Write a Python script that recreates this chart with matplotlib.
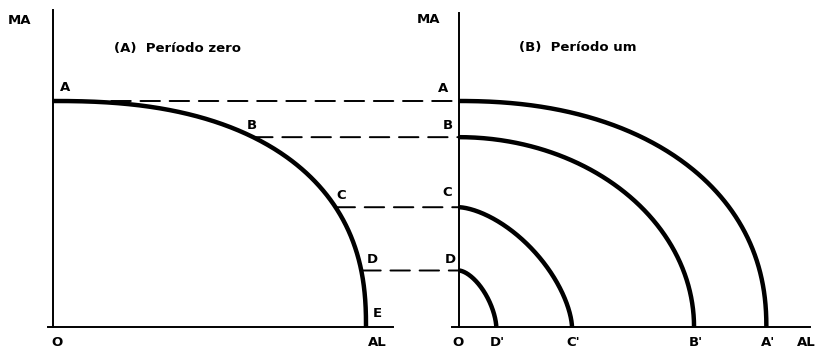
import matplotlib
matplotlib.use("Agg")
import matplotlib.pyplot as plt
import numpy as np
from matplotlib.patches import ConnectionPatch

plt.rcParams["font.family"] = ["DejaVu Sans"]
plt.rcParams["font.weight"] = "bold"
plt.rcParams["lines.scale_dashes"] = False

# --- data (arbitrary units, MA at A = 100) ---
levels = ["A", "B", "C", "D"]
ma_values = [100, 84, 53, 25]          # MA output at points A..D
al_period0 = 138.5                      # AL intercept of period-zero frontier (E)
shape0 = 2.4                            # curvature of period-zero frontier
al_labels1 = ["A'", "B'", "C'", "D'"]
al_period1 = [136, 104, 50, 16.5]       # AL intercepts of period-one frontiers
shape1 = [2.2, 2.0, 1.6, 1.6]

W, H = 817, 351
UNIT = 2.26   # pixels per data unit
LW_AX = 1.4
LW_CURVE = 3.2


def frontier(a, b, n, num=300):
    t = np.linspace(0, np.pi / 2, num)
    return a * np.cos(t) ** (2 / n), b * np.sin(t) ** (2 / n)


def x_at(a, b, n, y):
    return a * (1 - (y / b) ** n) ** (1 / n)


fig = plt.figure(figsize=(W / 100, H / 100), dpi=100)


def make_axes(x0, x1, ytop, ox, oy=327):
    ax = fig.add_axes([x0 / W, (H - oy) / H, (x1 - x0) / W, (oy - ytop) / H])
    ax.set_xlim((x0 - ox) / UNIT, (x1 - ox) / UNIT)
    ax.set_ylim(0, (oy - ytop) / UNIT)
    ax.axis("off")
    ax.axhline(0, color="k", lw=LW_AX, clip_on=False)
    ax.axvline(0, color="k", lw=LW_AX, clip_on=False)
    return ax


ax1 = make_axes(48, 393, 10, 53)
ax2 = make_axes(452, 810, 13, 459)

txt = dict(textcoords="offset points", ha="center", va="center", fontsize=9.5)

# period zero
ax1.plot(*frontier(al_period0, ma_values[0], shape0), color="k",
         lw=LW_CURVE, clip_on=False, solid_capstyle="butt")
left_offsets = [(8.6, 9.4), (-1, 8.6), (3.8, 8.6), (8, 8)]
right_offsets = [(-11.3, 9.1), (-7.7, 8.6), (-8.4, 10.3), (-6.5, 8)]
for lab, y, lo, ro in zip(levels, ma_values, left_offsets, right_offsets):
    x0 = x_at(al_period0, ma_values[0], shape0, y)
    ax1.annotate(lab, xy=(x0, y), xytext=lo, **txt)
    ax2.annotate(lab, xy=(0, y), xytext=ro, **txt)
    con = ConnectionPatch(xyA=(x0, y), coordsA=ax1.transData,
                          xyB=(0, y), coordsB=ax2.transData,
                          color="k", lw=LW_AX, linestyle=(0, (14, 7)))
    fig.add_artist(con)

ax1.annotate("E", xy=(al_period0, 0), xytext=(8.4, 9.8), **txt)
ax1.annotate("O", xy=(0, 0), xytext=(2.6, -11.5), **txt)
ax1.annotate("AL", xy=(ax1.get_xlim()[1], 0), xytext=(-11.5, -11.5), **txt)
ax1.annotate("MA", xy=(0, ax1.get_ylim()[1]), xytext=(-23.8, -7.2), **txt)
ax1.text(0.375, 0.88, "(A)  Período zero", transform=ax1.transAxes,
         ha="center", va="center", fontsize=9.5)

# period one
for lab, a, b, n in zip(al_labels1, al_period1, ma_values, shape1):
    ax2.plot(*frontier(a, b, n), color="k", lw=LW_CURVE, clip_on=False,
             solid_capstyle="butt")
    ax2.annotate(lab, xy=(a, 0), xytext=(1, -11), **txt)

ax2.annotate("O", xy=(0, 0), xytext=(-0.5, -11.5), **txt)
ax2.annotate("AL", xy=(ax2.get_xlim()[1], 0), xytext=(-3, -11), **txt)
ax2.annotate("MA", xy=(0, ax2.get_ylim()[1]), xytext=(-21.6, -5), **txt)
ax2.text(0.352, 0.889, "(B)  Período um", transform=ax2.transAxes,
         ha="center", va="center", fontsize=9.5)

fig.savefig("out.png", dpi=100)
